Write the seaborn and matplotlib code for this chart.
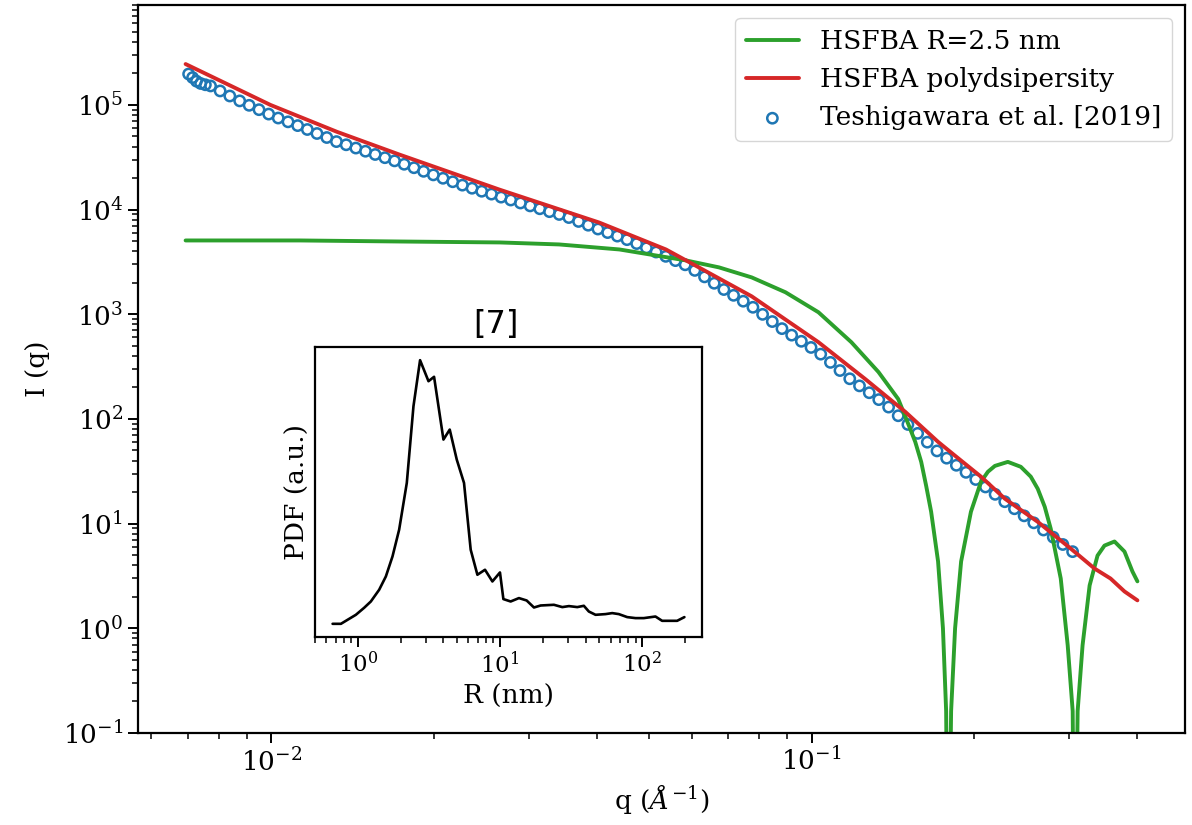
import matplotlib
matplotlib.use('Agg')
import matplotlib.pyplot as plt
import matplotlib.ticker as mticker
import seaborn as sns

# measured scattering data (q in 1/Angstrom, intensity)
q_data = [0.00703, 0.00715, 0.00727, 0.00740, 0.00755, 0.00772, 0.00804, 0.00838, 0.00874, 0.00910,
          0.00949, 0.00989, 0.01030, 0.01074, 0.01119, 0.01166, 0.01215, 0.01267, 0.01320, 0.01376,
          0.01434, 0.01494, 0.01557, 0.01623, 0.01691, 0.01762, 0.01837, 0.01914, 0.01995, 0.02079,
          0.02167, 0.02258, 0.02353, 0.02452, 0.02556, 0.02663, 0.02775, 0.02892, 0.03014, 0.03141,
          0.03273, 0.03412, 0.03555, 0.03705, 0.03861, 0.04024, 0.04194, 0.04371, 0.04555, 0.04747,
          0.04947, 0.05156, 0.05373, 0.05599, 0.05836, 0.06081, 0.06338, 0.06605, 0.06883, 0.07173,
          0.07475, 0.07790, 0.08118, 0.08460, 0.08817, 0.09189, 0.09576, 0.09980, 0.1040, 0.1084,
          0.1129, 0.1177, 0.1227, 0.1279, 0.1332, 0.1389, 0.1447, 0.1508, 0.1572, 0.1638,
          0.1707, 0.1779, 0.1854, 0.1932, 0.2014, 0.2099, 0.2187, 0.2279, 0.2375, 0.2475,
          0.2579, 0.2688, 0.2802, 0.2919, 0.3043]
I_data = [197300, 182400, 168500, 160200, 155700, 151700, 135900, 121600, 109200, 99100,
          90000, 81700, 74900, 68900, 63400, 58200, 53300, 48800, 44600, 41600,
          38700, 36100, 33600, 31300, 29200, 27100, 25100, 23200, 21450, 19910,
          18440, 17120, 15990, 14970, 14050, 13150, 12340, 11560, 10840, 10180,
          9550, 8980, 8390, 7700, 7090, 6520, 6030, 5580, 5160, 4735,
          4310, 3930, 3575, 3254, 2968, 2624, 2276, 1978, 1723, 1517,
          1333, 1166, 998, 852, 729, 632, 552, 482, 416, 347,
          290, 242, 207, 178, 153, 129.8, 107.3, 88.6, 72.8, 60.0,
          49.5, 42.2, 36.1, 30.9, 26.4, 22.4, 19.05, 16.2, 13.87, 11.87,
          10.18, 8.69, 7.42, 6.32, 5.40]

# monodisperse sphere model, R = 2.5 nm
q_sphere = [0.00694, 0.0113, 0.0173, 0.0265, 0.0341, 0.0441, 0.0586, 0.0674, 0.0775, 0.0895,
            0.103, 0.1185, 0.133, 0.1447, 0.149, 0.1556, 0.1596, 0.1630, 0.1665, 0.1715,
            0.1751, 0.1775, 0.1790, 0.1813, 0.1844, 0.1892, 0.1973, 0.2059, 0.2121, 0.2185,
            0.2309, 0.244, 0.2546, 0.2623, 0.2702, 0.2772, 0.2893, 0.298, 0.3044, 0.3070,
            0.3109, 0.3175, 0.3272, 0.3384, 0.3486, 0.3638, 0.3796, 0.3927, 0.4011]
I_sphere = [5070, 5070, 4955, 4853, 4645, 4159, 3266, 2805, 2249, 1622,
            1045, 541, 281, 155, 107, 60.4, 38.9, 23.0, 13.0, 4.35,
            1.0, 0.162, 0.001, 0.162, 1.0, 4.35, 13.0, 25.1, 31.3, 35.6,
            38.9, 34.9, 28.1, 21.5, 14.5, 8.95, 2.99, 0.689, 0.162, 0.001,
            0.162, 0.689, 2.57, 4.95, 6.17, 6.75, 5.41, 3.49, 2.81]

# polydisperse model
q_poly = [0.00694, 0.00996, 0.01323, 0.01730, 0.02646, 0.04046, 0.05377, 0.06185, 0.07750, 0.1030,
          0.1258, 0.1491, 0.1715, 0.1844, 0.2059, 0.2280, 0.2623, 0.3018, 0.3342, 0.3577,
          0.3796, 0.4011]
I_poly = [245500, 100000, 55300, 33400, 15500, 7516, 4159, 2805, 1483, 541,
          240, 117, 60.4, 44.5, 28.1, 17.3, 10.4, 5.78, 3.72, 2.99,
          2.25, 1.85]

# size distribution (inset)
R_nm = [0.664, 0.760, 0.846, 0.968, 1.107, 1.234, 1.412, 1.574, 1.753, 1.952,
        2.210, 2.462, 2.740, 3.141, 3.438, 4.002, 4.431, 4.966, 5.585, 6.223,
        6.937, 7.848, 8.846, 10.0, 10.57, 11.89, 13.60, 15.41, 17.35, 19.33,
        23.97, 27.46, 30.56, 35.0, 38.93, 42.2, 47.06, 55.3, 61.66, 68.6,
        78.6, 89.9, 102.9, 124.2, 138.4, 176.5, 198.6]
pdf = [0.13, 0.13, 0.17, 0.22, 0.29, 0.353, 0.47, 0.603, 0.803, 1.07,
       1.537, 2.303, 2.763, 2.553, 2.597, 1.97, 2.07, 1.77, 1.537, 0.87,
       0.62, 0.67, 0.553, 0.643, 0.377, 0.353, 0.387, 0.363, 0.293, 0.313,
       0.32, 0.297, 0.307, 0.297, 0.31, 0.253, 0.22, 0.227, 0.237, 0.227,
       0.197, 0.187, 0.187, 0.203, 0.16, 0.16, 0.197]

sns.set_style('ticks')
plt.rcParams['font.family'] = 'DejaVu Serif'
plt.rcParams['mathtext.fontset'] = 'dejavuserif'
plt.rcParams.update({'axes.edgecolor': 'black', 'text.color': 'black',
                     'axes.labelcolor': 'black', 'xtick.color': 'black',
                     'ytick.color': 'black', 'axes.linewidth': 1.6})

fig = plt.figure(figsize=(11.92, 8.25), dpi=100)
ax = fig.add_axes([138 / 1192, 1 - 733 / 825, 1047 / 1192, 728 / 825])
ax.set_xscale('log')
ax.set_yscale('log')

sns.lineplot(x=q_sphere, y=I_sphere, ax=ax, color='#2ca02c', lw=2.8,
             sort=False, estimator=None, label='HSFBA R=2.5 nm')
sns.lineplot(x=q_poly, y=I_poly, ax=ax, color='#d62728', lw=2.8,
             sort=False, estimator=None, label='HSFBA polydsipersity')
sns.scatterplot(x=q_data, y=I_data, ax=ax, marker='o', s=55, color='#1f77b4',
                facecolors='none', edgecolor='#1f77b4', linewidth=1.8,
                label='Teshigawara et al. [2019]', zorder=1.5)

ax.set_ylim(0.1, 9e5)
ax.yaxis.set_major_locator(mticker.LogLocator(base=10, numticks=20))
ax.yaxis.set_minor_locator(mticker.LogLocator(base=10, subs=range(2, 10), numticks=20))
ax.xaxis.set_minor_formatter(mticker.NullFormatter())
ax.yaxis.set_minor_formatter(mticker.NullFormatter())
ax.set_xlabel('q ($\\AA^{-1}$)', fontsize=19)
ax.set_ylabel('I (q)', fontsize=19, labelpad=9)
ax.tick_params(which='major', labelsize=19, length=7, width=1.4)
ax.tick_params(which='minor', length=4, width=1.1)
ax.legend(loc='upper right', fontsize=19, labelspacing=0.5, framealpha=0.8,
          edgecolor='0.8', fancybox=True)

# inset with size distribution
ins = fig.add_axes([315 / 1192, 1 - 637 / 825, 387 / 1192, 290 / 825])
ins.set_xscale('log')
sns.lineplot(x=R_nm, y=pdf, ax=ins, color='black', lw=1.9, sort=False, estimator=None)
ins.set_yticks([])
ins.xaxis.set_minor_formatter(mticker.NullFormatter())
ins.set_xlabel('R (nm)', fontsize=19)
ins.set_ylabel('PDF (a.u.)', fontsize=19)
ins.tick_params(which='major', labelsize=16.5, length=7, width=1.4)
ins.tick_params(which='minor', length=4, width=1.1)
ins.set_title('[7]', fontsize=23, family='DejaVu Sans', x=0.468, pad=10)

fig.savefig('out.png', dpi=100)
